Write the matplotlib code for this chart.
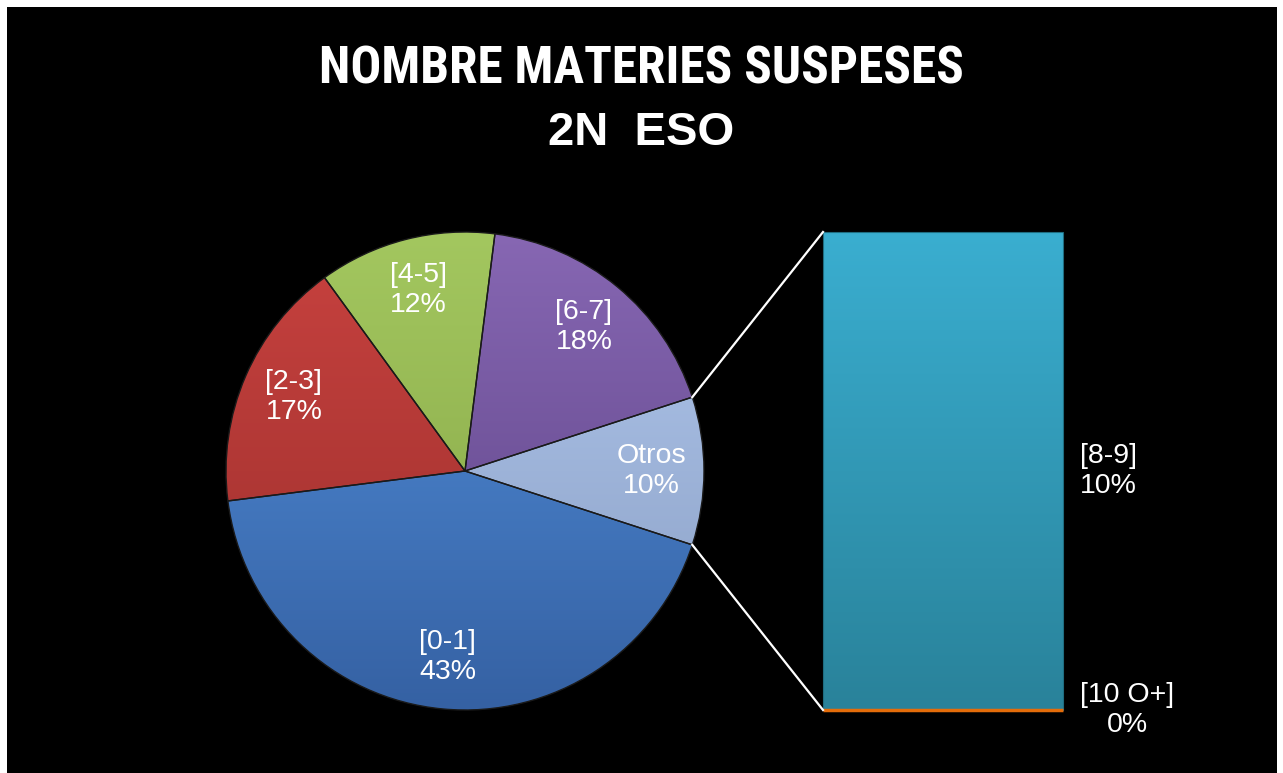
import numpy as np
import matplotlib
matplotlib.use("Agg")
import matplotlib.pyplot as plt
from matplotlib import font_manager
from matplotlib.colors import LinearSegmentedColormap

W, H = 1283, 773

# main pie
pie_labels = ["[0-1]", "[2-3]", "[4-5]", "[6-7]", "Otros"]
pie_values = [43, 17, 12, 18, 10]
pie_top = ["#5391DD", "#C8423F", "#A3C75F", "#8767B3", "#B1C8EE"]
pie_bottom = ["#3561A3", "#9A2E2C", "#84A345", "#5A4183", "#899EC3"]

# breakdown of "Otros" (bottom to top)
bar_labels = ["[10 O+]", "[8-9]"]
bar_values = [0, 10]
bar_top = ["#E46C0A", "#3AAED0"]
bar_bottom = ["#E46C0A", "#29829A"]

title_1 = "NOMBRE MATERIES SUSPESES"
title_2 = "2N  ESO"

names = {f.name for f in font_manager.fontManager.ttflist}
narrow = "Liberation Sans"
for cand in ["Liberation Sans Narrow", "Roboto Condensed", "DejaVu Sans Condensed",
             "Open Sans Condensed", "Noto Sans Condensed"]:
    if cand in names:
        narrow = cand
        break
base = "Liberation Sans"

fig = plt.figure(figsize=(W / 100, H / 100), dpi=100, facecolor="white")
ax = fig.add_axes([0, 0, 1, 1])
ax.axis("off")

# black panel inside the thin white frame
ax.add_patch(plt.Rectangle((7, 0), 1270, 766, facecolor="black", edgecolor="none", zorder=0))


def grad_fill(patch, c_top, c_bot, x0, x1, y0, y1, z):
    cmap = LinearSegmentedColormap.from_list("g", [c_bot, c_top])
    g = np.linspace(0, 1, 256).reshape(-1, 1)
    im = ax.imshow(g, extent=[x0, x1, y0, y1], origin="lower", cmap=cmap,
                   aspect="auto", interpolation="bilinear", zorder=z)
    im.set_clip_path(patch)


cx, cy, R = 465, 302, 239
wedges, _ = ax.pie(pie_values, colors=pie_bottom, startangle=-18, counterclock=False,
                   center=(cx, cy), radius=R,
                   wedgeprops=dict(edgecolor="#1a1a1a", linewidth=1.0))
total = sum(pie_values)
for w, lab, v, ct, cb in zip(wedges, pie_labels, pie_values, pie_top, pie_bottom):
    w.set_zorder(3)
    w.set_facecolor("none")
    grad_fill(w, ct, cb, cx - R, cx + R, cy - R, cy + R, 2)
    mid = np.deg2rad((w.theta1 + w.theta2) / 2)
    tx = cx + 0.78 * R * np.cos(mid)
    ty = cy + 0.78 * R * np.sin(mid)
    ax.text(tx, ty, f"{lab}\n{v / total * 100:.0f}%", color="white", fontsize=20.5,
            family=base, ha="center", va="center", linespacing=1.2, zorder=5)

# bar of pie
bx, bw, bh = 943, 240, 478
bottom0 = cy - bh / 2
scale = bh / sum(bar_values)
bottom = bottom0
for lab, v, ct, cb in zip(bar_labels, bar_values, bar_top, bar_bottom):
    h = v * scale
    if v > 0:
        rect = ax.bar(bx, h, width=bw, bottom=bottom, color="none",
                      edgecolor="#1f6d80", linewidth=0.8, zorder=3)[0]
        grad_fill(rect, ct, cb, bx - bw / 2, bx + bw / 2, bottom, bottom + h, 2)
        dx = 45
    else:
        ax.bar(bx, h, width=bw, bottom=bottom, color=ct, edgecolor=ct,
               linewidth=2.5, zorder=4)
        dx = 64
    ax.text(bx + bw / 2 + dx, bottom + h / 2, f"{lab}\n{v / total * 100:.0f}%",
            color="white", fontsize=20.5, family=base, ha="center", va="center",
            linespacing=1.2, zorder=5)
    bottom += h

# connector lines from the "Otros" wedge to the bar
ow = wedges[pie_labels.index("Otros")]
for ang, yb in ((ow.theta2, bottom0 + bh), (ow.theta1, bottom0)):
    a = np.deg2rad(ang)
    ax.plot([cx + R * np.cos(a), bx - bw / 2], [cy + R * np.sin(a), yb],
            color="white", linewidth=1.6, zorder=4)

ax.set_xlim(0, W)
ax.set_ylim(0, H)

t1 = ax.text(W / 2, H - 84, title_1, color="white", fontsize=37, fontweight="bold",
             family=narrow, ha="center", va="baseline")
ax.text(W / 2, H - 145, title_2, color="white", fontsize=34, fontweight="bold",
        family=base, ha="center", va="baseline")

# the original title is set in a condensed face; keep its width
fig.canvas.draw()
wpx = t1.get_window_extent().width
if wpx > 650:
    t1.set_fontsize(37 * 645 / wpx)

fig.savefig("out.png", dpi=100, facecolor="white")
